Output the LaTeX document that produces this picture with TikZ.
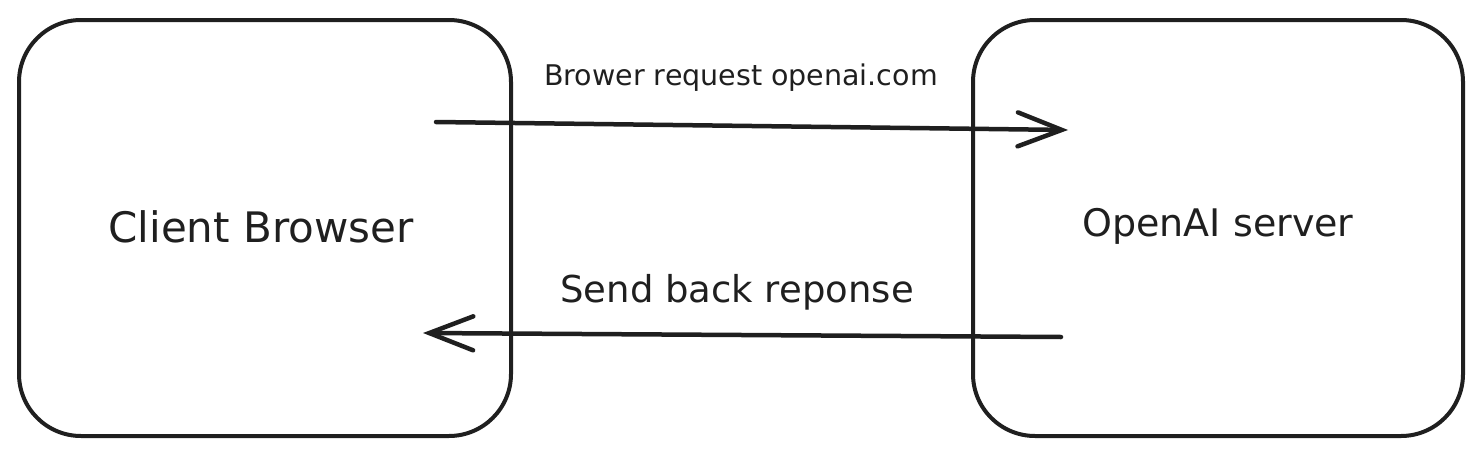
\documentclass[tikz,border=0pt]{standalone}
\usepackage{fontspec}
\setmainfont{DejaVu Sans}
\usetikzlibrary{arrows.meta,calc}
\tikzset{
	hostbox/.style={draw=black!88, line width=4pt, rounded corners=62pt, inner sep=0pt},
	msgline/.style={draw=black!88, line width=4.5pt, line cap=round,
		-{Straight Barb[length=44pt, width=34pt, line width=4.5pt, line cap=round]}},
	msglabel/.style={inner sep=0pt, text=black!88}
}

\begin{document}
\begin{tikzpicture}[x=1pt, y=-1pt]
			%%%%% START %%%%%
			
			\useasboundingbox (0, 0) rectangle (1483, 455);
			
			\node[hostbox, minimum width=492pt, minimum height=416pt] (client) at (265, 228) {};
			\node[hostbox, minimum width=490pt, minimum height=416pt] (server) at (1218, 228) {};
			
			\node[msglabel, font=\fontsize{42}{50}\selectfont] (clientname) at (261, 227) {Client Browser};
			\node[msglabel, font=\fontsize{38}{46}\selectfont] (servername) at (1218, 226) {OpenAI server};
			
			\coordinate (reqfrom) at (436, 122);
			\coordinate (reqto) at (1068, 130);
			\coordinate (resfrom) at (1061, 337);
			\coordinate (resto) at (423, 333);
			
			\draw[msgline] (reqfrom) -- (reqto);
			\draw[msgline] (resfrom) -- (resto);
			
			\node[msglabel, font=\fontsize{28.5}{34}\selectfont] (reqtext) at (741, 78) {Brower request openai.com};
			\node[msglabel, font=\fontsize{37}{44}\selectfont] (restext) at (737, 292) {Send back reponse};
			
			%%%%% END %%%%%
		\end{tikzpicture}
\end{document}
